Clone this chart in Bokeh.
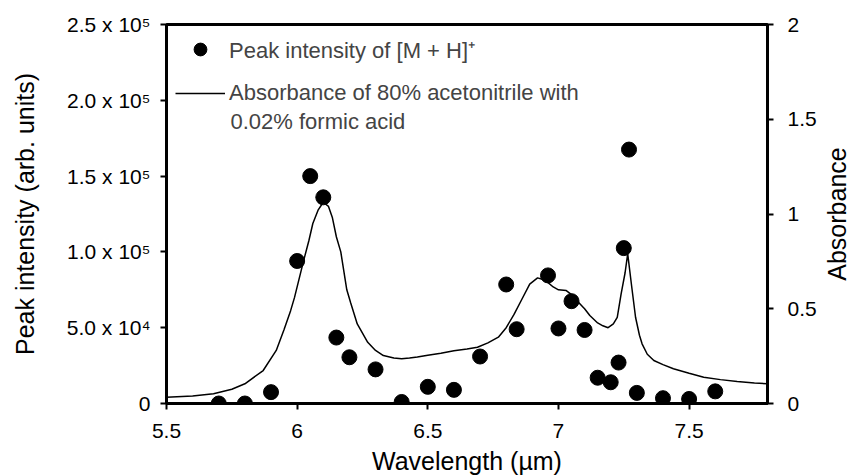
import math
from bokeh.plotting import figure
from bokeh.models import (Range1d, LinearAxis, FixedTicker, Legend, LegendItem, Label)
from bokeh.embed import file_html
from bokeh.resources import INLINE

# ---- data ----
wavelength_pts = [5.7, 5.8, 5.9, 6.0, 6.05, 6.1, 6.15, 6.2, 6.3, 6.4, 6.5, 6.6, 6.7,
                  6.8, 6.84, 6.96, 7.0, 7.05, 7.1, 7.15, 7.2, 7.23, 7.25, 7.27, 7.3,
                  7.4, 7.5, 7.6]
peak_intensity = [0, 0, 7500, 94000, 150000, 136000, 43500, 30500, 22500, 1000, 11000,
                  9000, 31000, 78500, 49000, 84500, 49500, 67500, 48500, 17000, 14000,
                  27000, 102500, 167500, 7000, 3500, 3000, 8000]

wavelength_curve = [5.50, 5.60, 5.68, 5.75, 5.80, 5.87, 5.92, 5.95, 5.975, 5.99, 6.025,
                    6.045, 6.06, 6.08, 6.10, 6.12, 6.135, 6.15, 6.167, 6.19, 6.205, 6.23,
                    6.27, 6.30, 6.33, 6.37, 6.40, 6.43, 6.46, 6.50, 6.55, 6.60, 6.65,
                    6.69, 6.73, 6.77, 6.80, 6.83, 6.86, 6.89, 6.92, 6.95, 6.98, 7.00,
                    7.03, 7.05, 7.07, 7.10, 7.12, 7.15, 7.17, 7.19, 7.21, 7.225, 7.24,
                    7.255, 7.265, 7.28, 7.295, 7.31, 7.32, 7.34, 7.365, 7.40, 7.44,
                    7.50, 7.556, 7.62, 7.684, 7.75, 7.80]
absorbance = [0.033, 0.040, 0.051, 0.075, 0.104, 0.174, 0.28, 0.39, 0.49, 0.56, 0.755,
              0.86, 0.95, 1.02, 1.062, 1.04, 0.98, 0.88, 0.80, 0.60, 0.53, 0.42,
              0.323, 0.28, 0.253, 0.24, 0.236, 0.240, 0.245, 0.255, 0.265, 0.278, 0.288,
              0.297, 0.32, 0.35, 0.40, 0.47, 0.55, 0.63, 0.663, 0.65, 0.615, 0.60,
              0.596, 0.575, 0.544, 0.50, 0.464, 0.425, 0.41, 0.40, 0.42, 0.455, 0.58,
              0.69, 0.79, 0.62, 0.455, 0.36, 0.315, 0.26, 0.227, 0.205, 0.183,
              0.16, 0.139, 0.126, 0.116, 0.108, 0.104]

x_ticks = [5.5, 6.0, 6.5, 7.0, 7.5]
x_tick_labels = ["5.5", "6", "6.5", "7", "7.5"]
y_ticks = [0, 50000, 100000, 150000, 200000, 250000]
y_tick_labels = ["0", "5.0 x 10\u2074", "1.0 x 10\u2075", "1.5 x 10\u2075",
                 "2.0 x 10\u2075", "2.5 x 10\u2075"]
abs_ticks = [0, 0.5, 1.0, 1.5, 2.0]
abs_tick_labels = ["0", "0.5", "1", "1.5", "2"]

legend_labels = ["Peak intensity of [M + H]\u207a", "Absorbance of 80% acetonitrile with"]
legend_label_cont = "0.02% formic acid"

FONT = "Liberation Sans"
TICK = "21px"
LEG = "22px"
TITLE = "25px"

p = figure(frame_width=601, frame_height=379, output_backend="svg", toolbar_location=None,
           x_range=Range1d(5.5, 7.8), y_range=Range1d(0, 250000),
           min_border_left=166, min_border_top=24, min_border_right=88, min_border_bottom=64)
p.extra_y_ranges = {"abs": Range1d(0, 2)}

p.grid.visible = False
p.outline_line_color = "black"
p.outline_line_width = 3
p.background_fill_color = "white"
p.border_fill_color = "white"

right_axis = LinearAxis(y_range_name="abs")
p.add_layout(right_axis, "right")

for ax in [p.xaxis[0], p.yaxis[0], right_axis]:
    ax.axis_line_width = 3
    ax.axis_line_color = "black"
    ax.major_tick_line_width = 2
    ax.major_tick_in = 0
    ax.major_tick_out = 6
    ax.minor_tick_line_color = None
    ax.major_label_text_font = FONT
    ax.major_label_text_font_size = TICK
    ax.major_label_text_color = "black"
    ax.axis_label_text_font = FONT
    ax.axis_label_text_font_size = TITLE
    ax.axis_label_text_font_style = "normal"
    ax.axis_label_text_color = "black"

p.xaxis[0].ticker = FixedTicker(ticks=x_ticks)
p.xaxis[0].major_label_overrides = dict(zip(x_ticks, x_tick_labels))
p.xaxis[0].axis_label = "Wavelength (\u00b5m)"
p.xaxis[0].major_label_standoff = 14
p.xaxis[0].axis_label_standoff = 6

p.yaxis[0].ticker = FixedTicker(ticks=y_ticks)
p.yaxis[0].major_label_overrides = dict(zip(y_ticks, y_tick_labels))
p.yaxis[0].axis_label = "Peak intensity (arb. units)"
p.yaxis[0].major_label_standoff = 10
p.yaxis[0].axis_label_standoff = 25

right_axis.ticker = FixedTicker(ticks=abs_ticks)
right_axis.major_label_overrides = dict(zip(abs_ticks, abs_tick_labels))
right_axis.major_label_standoff = 14

line = p.line(wavelength_curve, absorbance, y_range_name="abs",
              line_color="black", line_width=1.5)
pts = p.scatter(wavelength_pts, peak_intensity, marker="circle", size=15,
                fill_color="black", line_color="black")

legend = Legend(items=[LegendItem(label=legend_labels[0], renderers=[pts]),
                       LegendItem(label=legend_labels[1], renderers=[line])],
                location="top_left")
legend.border_line_alpha = 0
legend.background_fill_alpha = 0
legend.margin = 0
legend.padding = 9
legend.glyph_width = 50
legend.glyph_height = 32
legend.label_standoff = 4
legend.spacing = 12
legend.label_text_font = FONT
legend.label_text_font_size = LEG
p.add_layout(legend, "center")

p.add_layout(Label(x=64, y=282, x_units="screen", y_units="screen", text=legend_label_cont,
                   text_font=FONT, text_font_size=LEG, text_baseline="middle"))

# right axis title (reads bottom-to-top), placed in the right side panel
p.add_layout(Label(x=17, y=189.5, x_units="screen", y_units="screen", text="Absorbance",
                   angle=math.pi / 2, text_align="center", text_baseline="middle",
                   text_font=FONT, text_font_size=TITLE, text_color="black"), "right")

open("out.html", "w").write(file_html(p, INLINE))
